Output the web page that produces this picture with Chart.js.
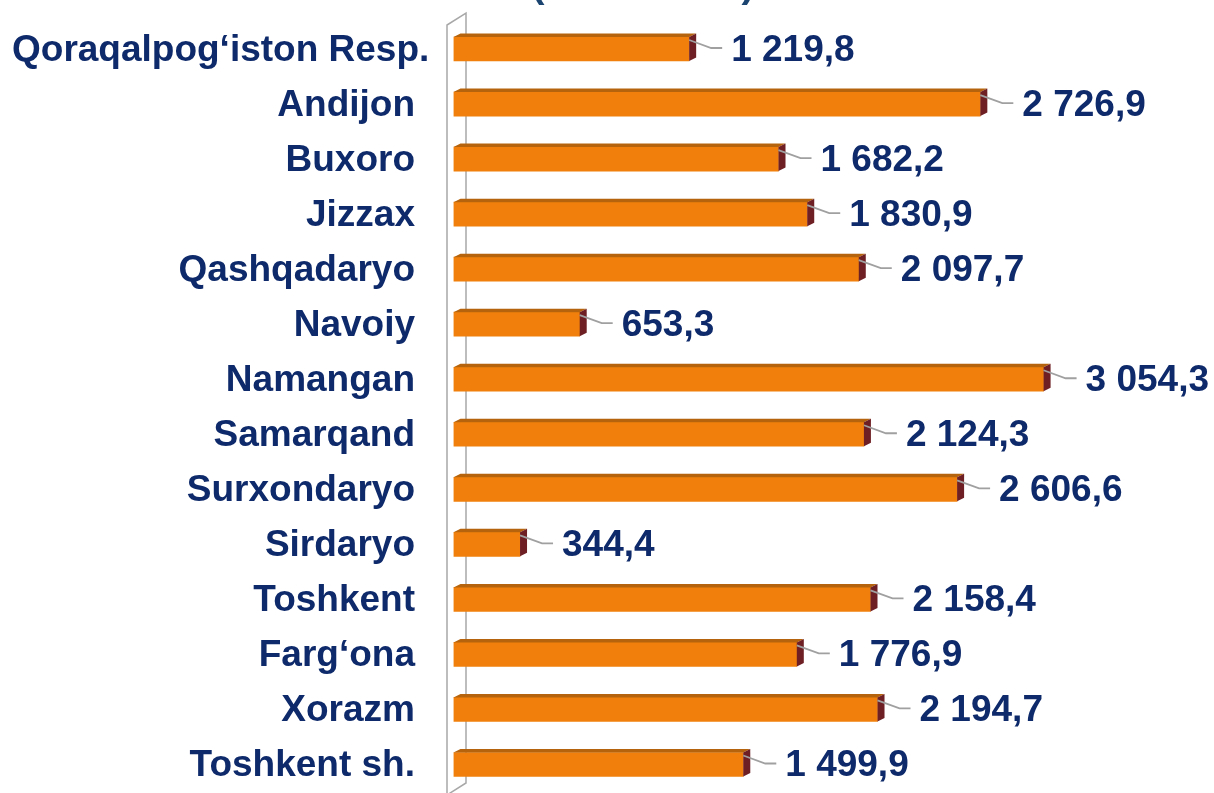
<!DOCTYPE html>
<html>
<head>
<meta charset="utf-8">
<script src="https://cdn.jsdelivr.net/npm/chart.js@4"></script>
<style>
  html, body { margin: 0; padding: 0; background: #fff; }
  canvas { display: block; }
</style>
</head>
<body>
<canvas id="regions-chart" width="1214" height="793"></canvas>
<script>
const categories = [
    'Qoraqalpog‘iston Resp.', 'Andijon', 'Buxoro', 'Jizzax', 'Qashqadaryo',
    'Navoiy', 'Namangan', 'Samarqand', 'Surxondaryo', 'Sirdaryo',
    'Toshkent', 'Farg‘ona', 'Xorazm', 'Toshkent sh.'
];
const values = [
    1219.8, 2726.9, 1682.2, 1830.9, 2097.7,
    653.3, 3054.3, 2124.3, 2606.6, 344.4,
    2158.4, 1776.9, 2194.7, 1499.9
];
const unitTitle = '(mlrd. so‘m)';

const navy = '#0e2a6a';
const labelFont = 'bold 37px "Liberation Sans", Arial, sans-serif';

function formatValue(v) {
    const parts = v.toFixed(1).split('.');
    return parts[0].replace(/\B(?=(\d{3})+(?!\d))/g, ' ') + ',' + parts[1];
}

// 3d-ish wall behind the bars
const wallPlugin = {
    id: 'wall',
    beforeDatasetsDraw(chart) {
        const ctx = chart.ctx;
        const left = chart.chartArea.left;
        const front = left - 6.5;
        const back = left + 12.5;
        ctx.save();
        ctx.strokeStyle = '#a8a8a8';
        ctx.lineWidth = 1.5;
        ctx.beginPath();
        ctx.moveTo(front, 800);
        ctx.lineTo(front, 25);
        ctx.lineTo(back, 13);
        ctx.lineTo(back, 783);
        ctx.lineTo(front, 795);
        ctx.stroke();
        ctx.restore();

        // unit title, mostly above the visible area
        ctx.save();
        ctx.fillStyle = '#1b4470';
        ctx.font = 'bold 39px "Liberation Sans", Arial, sans-serif';
        ctx.textAlign = 'center';
        ctx.textBaseline = 'alphabetic';
        ctx.fillText(unitTitle, 643, -3);
        ctx.restore();
    }
};

// top face, end cap, leader lines and labels
const barDecorPlugin = {
    id: 'barDecor',
    afterDatasetsDraw(chart) {
        const ctx = chart.ctx;
        const meta = chart.getDatasetMeta(0);
        const dx = 7, dy = 3.5;
        meta.data.forEach((bar, i) => {
            const p = bar.getProps(['x', 'y', 'base', 'height'], true);
            const top = p.y - p.height / 2;
            const bottom = p.y + p.height / 2;
            const x0 = p.base, xe = p.x;

            ctx.save();
            ctx.fillStyle = '#b5630c';
            ctx.beginPath();
            ctx.moveTo(x0, top);
            ctx.lineTo(x0 + dx, top - dy);
            ctx.lineTo(xe + dx, top - dy);
            ctx.lineTo(xe, top);
            ctx.closePath();
            ctx.fill();

            ctx.fillStyle = '#6e1f24';
            ctx.beginPath();
            ctx.moveTo(xe, top);
            ctx.lineTo(xe + dx, top - dy);
            ctx.lineTo(xe + dx, bottom - dy);
            ctx.lineTo(xe, bottom);
            ctx.closePath();
            ctx.fill();

            // leader line
            ctx.strokeStyle = '#a0a0a0';
            ctx.lineWidth = 1.8;
            ctx.beginPath();
            ctx.moveTo(xe, p.y - 9);
            ctx.lineTo(xe + 22, p.y - 1);
            ctx.lineTo(xe + 33, p.y - 1);
            ctx.stroke();

            ctx.fillStyle = navy;
            ctx.font = labelFont;
            ctx.textAlign = 'left';
            ctx.textBaseline = 'alphabetic';
            ctx.fillText(formatValue(values[i]), xe + 42, p.y + 12);

            // category label
            const name = categories[i];
            const w = ctx.measureText(name).width;
            ctx.textAlign = 'right';
            ctx.fillText(name, Math.max(415, 12 + w), p.y + 12);
            ctx.restore();
        });
    }
};

const ctx = document.getElementById('regions-chart').getContext('2d');
new Chart(ctx, {
    type: 'bar',
    data: {
        labels: categories,
        datasets: [{
            data: values,
            backgroundColor: '#f0800b',
            borderWidth: 0,
            barThickness: 24
        }]
    },
    options: {
        indexAxis: 'y',
        responsive: false,
        animation: false,
        devicePixelRatio: 1,
        layout: {
            padding: { left: 453.5, right: 84.3, top: 21.5, bottom: 1 }
        },
        scales: {
            x: { display: false, min: 0, max: 3500 },
            y: { display: false }
        },
        plugins: {
            legend: { display: false },
            tooltip: { enabled: false }
        }
    },
    plugins: [wallPlugin, barDecorPlugin]
});
</script>
</body>
</html>
